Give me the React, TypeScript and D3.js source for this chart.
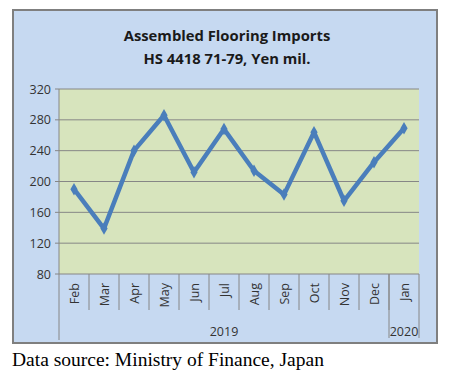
import * as d3 from "d3";
import { useEffect, useRef } from "react";

const months = ["Feb", "Mar", "Apr", "May", "Jun", "Jul", "Aug", "Sep", "Oct", "Nov", "Dec", "Jan"];
const imports = [190, 139, 240, 286, 212, 268, 214, 183, 264, 175, 225, 269];
const yTicks = [80, 120, 160, 200, 240, 280, 320];
const years = [
  { label: "2019", from: 0, to: 11 },
  { label: "2020", from: 11, to: 12 },
];

const App = () => {
  const svgRef = useRef<SVGSVGElement>(null);

  useEffect(() => {
    const svg = d3.select(svgRef.current);
    svg.selectAll("*").remove();

    const left = 59, right = 419, top = 89, bottom = 274;
    const font = "'Open Sans', sans-serif";

    // chart box
    svg.append("rect")
      .attr("x", 13).attr("y", 10).attr("width", 424).attr("height", 333)
      .attr("fill", "#c6d9f1").attr("stroke", "#7f7f7f").attr("stroke-width", 2);

    svg.append("text")
      .attr("x", 227).attr("y", 41)
      .attr("text-anchor", "middle")
      .style("font-family", font)
      .style("font-weight", "bold").style("font-size", "14.8px")
      .attr("fill", "#1a1a1a")
      .text("Assembled Flooring Imports");
    svg.append("text")
      .attr("x", 227).attr("y", 64)
      .attr("text-anchor", "middle")
      .style("font-family", font)
      .style("font-weight", "bold").style("font-size", "14.8px")
      .attr("fill", "#1a1a1a")
      .text("HS 4418 71-79, Yen mil.");

    const x = d3.scaleBand().domain(months).range([left, right]);
    const y = d3.scaleLinear().domain([80, 320]).range([bottom, top]);

    svg.append("rect")
      .attr("x", left).attr("y", top).attr("width", right - left).attr("height", bottom - top)
      .attr("fill", "#d7e4bd");

    // gridlines + y labels
    const g = svg.append("g");
    g.selectAll(".grid").data(yTicks).enter().append("line")
      .attr("x1", left - 4).attr("x2", right)
      .attr("y1", (d) => y(d)).attr("y2", (d) => y(d))
      .attr("stroke", "#868686").attr("stroke-width", 1);
    g.selectAll(".ylab").data(yTicks).enter().append("text")
      .attr("x", left - 8).attr("y", (d) => y(d) + 4.5)
      .attr("text-anchor", "end")
      .style("font-family", font).style("font-size", "12.5px")
      .attr("fill", "#333")
      .text((d) => d);

    // axis line
    svg.append("line")
      .attr("x1", left).attr("x2", left).attr("y1", top).attr("y2", 340)
      .attr("stroke", "#868686");

    // category separators
    svg.selectAll(".sep").data(months.slice(1)).enter().append("line")
      .attr("x1", (d) => x(d)!).attr("x2", (d) => x(d)!)
      .attr("y1", bottom).attr("y2", 310)
      .attr("stroke", "#868686");
    svg.selectAll(".ysep").data(years).enter().append("line")
      .attr("x1", (d) => left + d.to * x.bandwidth()).attr("x2", (d) => left + d.to * x.bandwidth())
      .attr("y1", bottom).attr("y2", 338)
      .attr("stroke", "#868686");

    svg.selectAll(".mlab").data(months).enter().append("text")
      .attr("transform", (d) => `translate(${x(d)! + x.bandwidth() / 2 + 4.5},283) rotate(-90)`)
      .attr("text-anchor", "end")
      .style("font-family", font).style("font-size", "12.5px")
      .attr("fill", "#333")
      .text((d) => d);

    svg.selectAll(".ylab2").data(years).enter().append("text")
      .attr("x", (d) => left + ((d.from + d.to) / 2) * x.bandwidth())
      .attr("y", 336)
      .attr("text-anchor", "middle")
      .style("font-family", font).style("font-size", "12.5px")
      .attr("fill", "#333")
      .text((d) => d.label);

    // line
    const line = d3.line<number>()
      .x((_, i) => x(months[i])! + x.bandwidth() / 2)
      .y((d) => y(d));
    svg.append("path")
      .datum(imports)
      .attr("d", line)
      .attr("fill", "none")
      .attr("stroke", "#4a7ebb")
      .attr("stroke-width", 4.5)
      .attr("stroke-linejoin", "round");

    svg.selectAll(".pt").data(imports).enter().append("path")
      .attr("d", d3.symbol().type(d3.symbolDiamond).size(45))
      .attr("transform", (d, i) => `translate(${x(months[i])! + x.bandwidth() / 2},${y(d)})`)
      .attr("fill", "#4a7ebb");

    svg.append("text")
      .attr("x", 12).attr("y", 366)
      .style("font-family", "'Liberation Serif', serif").style("font-size", "19.5px")
      .attr("fill", "#000")
      .text("Data source: Ministry of Finance, Japan");
  }, []);

  return (
    <div style={{ position: "absolute", left: 0, top: 0 }}>
      <svg ref={svgRef} width={456} height={373}></svg>
    </div>
  );
};

export default App;
